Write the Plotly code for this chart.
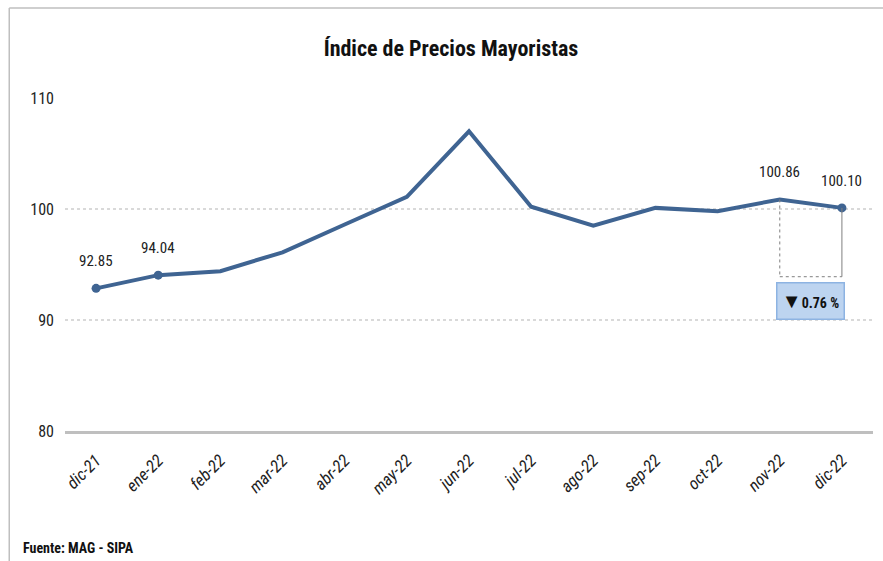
import plotly.graph_objects as go

months = ["dic-21", "ene-22", "feb-22", "mar-22", "abr-22", "may-22", "jun-22",
          "jul-22", "ago-22", "sep-22", "oct-22", "nov-22", "dic-22"]
values = [92.85, 94.04, 94.4, 96.1, 98.6, 101.1, 107.0, 100.2, 98.5, 100.1, 99.8, 100.86, 100.10]
labeled_idx = [0, 1, 11, 12]
marker_idx = [0, 1, 12]
y_ticks = [80, 90, 100, 110]
change_text = "0.76 %"
source_text = "Fuente: MAG - SIPA"
title_text = "Índice de Precios Mayoristas"

x = list(range(len(months)))
LINE = "#3F6492"
NARROW = "Liberation Sans Narrow, Arial Narrow, Roboto Condensed, sans-serif"

fig = go.Figure()
fig.add_trace(go.Scatter(x=x, y=values, mode="lines",
                         line=dict(color=LINE, width=4), hoverinfo="skip", showlegend=False))
fig.add_trace(go.Scatter(x=[x[i] for i in marker_idx], y=[values[i] for i in marker_idx],
                         mode="markers", marker=dict(color=LINE, size=9),
                         hoverinfo="skip", showlegend=False))

for i in labeled_idx:
    fig.add_annotation(x=x[i], y=values[i], text=f"{values[i]:.2f}", showarrow=False,
                       yshift=27, font=dict(family=NARROW, size=15, color="#222"))

# change connector
y_conn = 93.9
fig.add_shape(type="line", x0=11, x1=11, y0=values[11], y1=y_conn,
              line=dict(color="#7F7F7F", width=1, dash="dot"))
fig.add_shape(type="line", x0=11, x1=12, y0=y_conn, y1=y_conn,
              line=dict(color="#7F7F7F", width=1, dash="dot"))
fig.add_shape(type="line", x0=12, x1=12, y0=values[12], y1=y_conn,
              line=dict(color="#7F7F7F", width=1))
fig.add_annotation(x=11.5, y=91.75,
                   text="<span style='font-size:20px'>▼</span><b>" + change_text + "</b>",
                   showarrow=False,
                   font=dict(family=NARROW, size=14, color="#111"),
                   bgcolor="#BDD4F0", bordercolor="#8DB3E2", borderwidth=1.5,
                   width=64, height=33, align="center")

# frame
fig.add_shape(type="line", xref="paper", yref="paper", x0=-0.069, x1=1.02, y0=1.27, y1=1.27,
              line=dict(color="#BFBFBF", width=1.5))
fig.add_shape(type="line", xref="paper", yref="paper", x0=-0.069, x1=-0.069, y0=1.27, y1=-0.4,
              line=dict(color="#BFBFBF", width=1.5))

fig.add_annotation(xref="paper", yref="paper", x=-0.054, y=-0.352, xanchor="left", yanchor="middle",
                   text="<b>" + source_text + "</b>", showarrow=False,
                   font=dict(family=NARROW, size=14, color="#111"))

fig.update_layout(
    width=883, height=561,
    margin=dict(l=65, r=10, t=98, b=130),
    paper_bgcolor="white", plot_bgcolor="white",
    title=dict(text="<b>" + title_text + "</b>", x=451 / 883, xanchor="center",
               y=1 - 48 / 561, yanchor="middle",
               font=dict(family=NARROW, size=22, color="#111")),
    xaxis=dict(tickvals=x, ticktext=["<i>" + m + "</i>" for m in months], range=[-0.5, 12.5],
               showgrid=False, showline=True, linecolor="#BFBFBF", linewidth=2.5, ticks="",
               tickangle=-45, tickfont=dict(family=NARROW, size=17, color="#222"),
               ticklabelstandoff=10, zeroline=False),
    yaxis=dict(range=[80, 110], tickvals=y_ticks, showgrid=True, gridcolor="#D9D9D9",
               griddash="dot", gridwidth=1.5, zeroline=False, showline=False,
               tickfont=dict(family=NARROW, size=16, color="#222"), ticklabelstandoff=10),
)

fig.write_html("out.html", post_script="document.body.style.margin='0';",
               config={"displayModeBar": False})
